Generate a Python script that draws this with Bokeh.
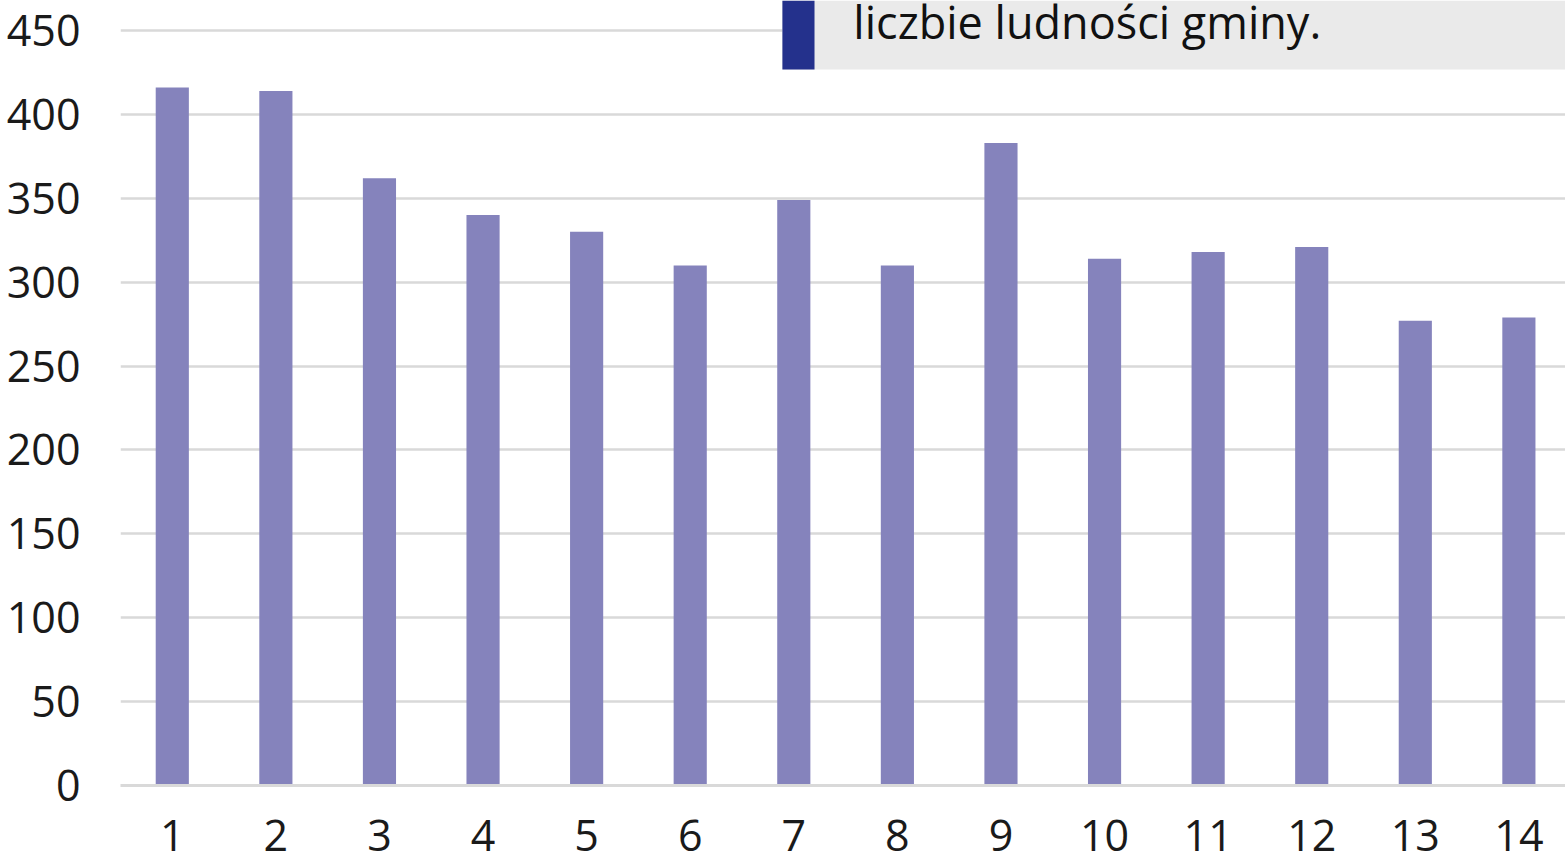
from bokeh.plotting import figure
from bokeh.models import ColumnDataSource, FixedTicker, Range1d, BoxAnnotation, Label
from bokeh.embed import file_html
from bokeh.resources import INLINE

categories = [1, 2, 3, 4, 5, 6, 7, 8, 9, 10, 11, 12, 13, 14]
values = [416, 414, 362, 340, 330, 310, 349, 310, 383, 314, 318, 321, 277, 279]
y_ticks = [0, 50, 100, 150, 200, 250, 300, 350, 400, 450]
note_text = "liczbie ludności gminy."

FONT = "Open Sans"
BAR = "#8583BC"
GRID = "#D9D9D9"

src = ColumnDataSource(dict(x=categories, top=values))

p = figure(width=1565, height=856, output_backend="svg", toolbar_location=None,
           x_range=Range1d(0.5, 14.45), y_range=Range1d(0, 467.9),
           min_border_left=120, min_border_right=0, min_border_top=0, min_border_bottom=71)
p.outline_line_color = None
p.background_fill_color = "white"

p.vbar(x="x", top="top", width=0.32, source=src, color=BAR, line_color=None)

p.xgrid.visible = False
p.ygrid.ticker = FixedTicker(ticks=y_ticks[1:])
p.ygrid.grid_line_color = GRID
p.ygrid.grid_line_width = 2.5

p.yaxis.ticker = FixedTicker(ticks=y_ticks)
p.yaxis.axis_line_color = None
p.yaxis.major_tick_line_color = None
p.yaxis.minor_tick_line_color = None
p.yaxis.major_label_text_font = FONT
p.yaxis.major_label_text_font_size = "43px"
p.yaxis.major_label_text_color = "#1A1A1A"
p.yaxis.major_label_standoff = 34

p.xaxis.ticker = FixedTicker(ticks=categories)
p.xaxis.axis_line_color = GRID
p.xaxis.axis_line_width = 3
p.xaxis.major_tick_line_color = None
p.xaxis.minor_tick_line_color = None
p.xaxis.major_label_text_font = FONT
p.xaxis.major_label_text_font_size = "43px"
p.xaxis.major_label_text_color = "#1A1A1A"
p.xaxis.major_label_standoff = 28

# note box (top-right), partially cut off at top
p.add_layout(BoxAnnotation(left=6.89, right=14.45, bottom=426.7, top=467.9,
                           fill_color="#EAEAEA", fill_alpha=1, line_color=None, level="overlay"))
p.add_layout(BoxAnnotation(left=6.89, right=7.2, bottom=426.7, top=467.9,
                           fill_color="#24318C", fill_alpha=1, line_color=None, level="overlay"))
p.add_layout(Label(x=7.575, y=455.5, text=note_text, text_font=FONT, text_font_size="45px",
                   text_color="#111111", text_baseline="alphabetic", level="overlay"))

open("out.html", "w").write(file_html(p, INLINE))
